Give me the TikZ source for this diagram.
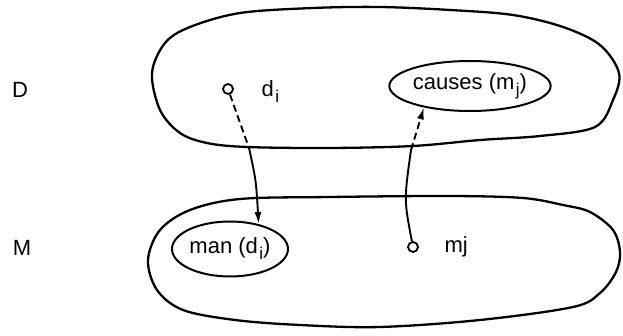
\documentclass[tikz,border=0pt]{standalone}
\usepackage{fontspec}
\setmainfont{Liberation Sans}
\usetikzlibrary{arrows.meta,shapes.geometric}
\newcommand{\lowsub}[1]{\kern1.5pt\raisebox{-6pt}{\fontsize{17}{19}\selectfont #1}}

\begin{document}
\begin{tikzpicture}[
  x=1pt, y=-1pt,
  font=\fontsize{22}{25}\selectfont,
  blob/.style={line width=2.3pt, smooth cycle, tension=0.55},
  setbox/.style={draw, ellipse, line width=2pt, inner sep=0pt},
  elem/.style={draw, circle, line width=1.8pt, minimum size=10pt, inner sep=0pt},
  arr/.style={-{Latex[length=12pt,width=7pt]}, line width=1.9pt},
  dsh/.style={dash pattern=on 7pt off 4pt}
]
\useasboundingbox (0,0) rectangle (623,336);
% the two domains
\draw[blob] plot coordinates {(152,73) (165,43) (190,27) (240,13) (313,8) (380,7)
  (450,10) (513,15) (563,27) (600,45) (619,73) (613,100) (595,127) (540,136)
  (480,140) (413,146) (330,148) (247,147) (207,143) (180,133) (160,110)};
\draw[blob] plot coordinates {(148,260) (160,230) (190,210) (240,199) (330,197)
  (450,196) (523,198) (563,205) (590,212) (613,230) (620,252) (616,272) (600,293)
  (573,307) (480,320) (380,327) (300,325) (235,320) (183,310) (157,290)};
\node (lblD) at (20,90) {D};
\node (lblM) at (22,248) {M};
% sets and elements
\node[setbox, minimum width=154pt, minimum height=50pt] (causes) at (470,86) {causes (m\lowsub{j})};
\node[setbox, minimum width=116pt, minimum height=55pt] (man) at (230,249) {man (d\lowsub{i})};
\node[elem] (di) at (228,89) {};
\node[anchor=west] (dilbl) at (258,92) {d\lowsub{i}};
\node[elem] (mj) at (413,247) {};
\node[anchor=west] (mjlbl) at (441,247) {mj};
% mappings
\coordinate (dcross) at (249,148);
\coordinate (mcross) at (411,150);
\draw[dsh, line width=1.9pt] (di) -- (dcross);
\draw[arr] (dcross) .. controls (256,180) .. (man.41);
\draw[line width=1.9pt] (mj) .. controls (404,200) .. (mcross);
\draw[arr, dsh] (mcross) -- (causes.205);
\end{tikzpicture}
\end{document}
